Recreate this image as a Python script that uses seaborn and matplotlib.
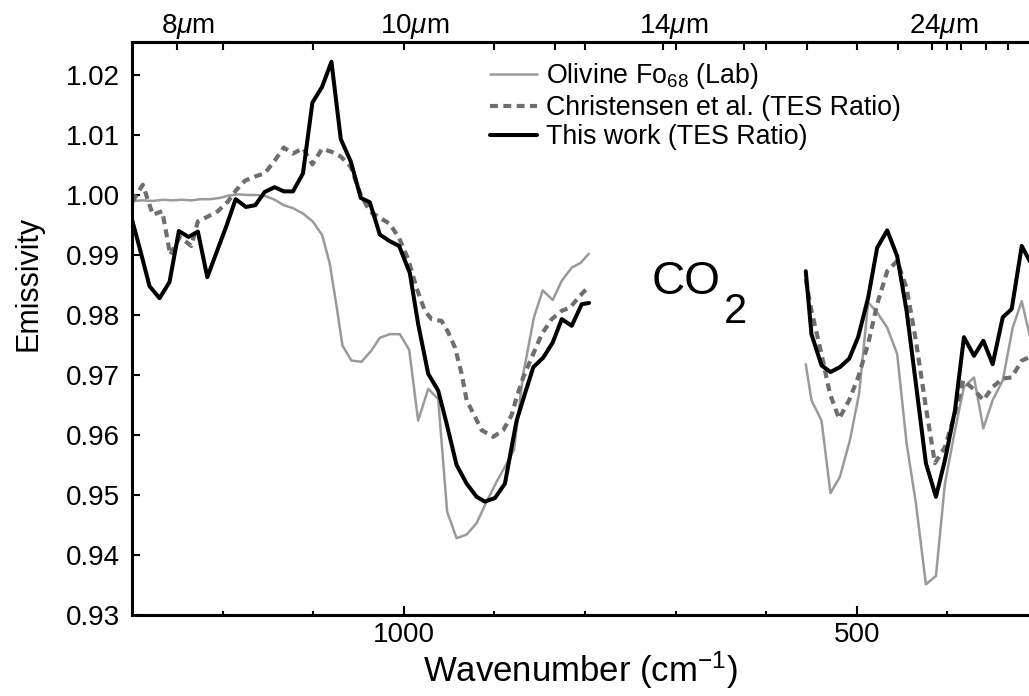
import numpy as np
import pandas as pd
import seaborn as sns
import matplotlib.pyplot as plt
import matplotlib.transforms as mtransforms
from matplotlib.lines import Line2D
from matplotlib.ticker import FixedLocator, FixedFormatter, MultipleLocator

# ---------------------------------------------------------------------------
# Spectra (wavenumber in cm^-1, emissivity). Each series is split in two
# pieces around the 15 um CO2 band, where no surface data are shown.
# ---------------------------------------------------------------------------
lab_wn_hi = [1299.5, 1288.1, 1277.4, 1266.0, 1255.3, 1245.3, 1234.3, 1224.3, 1213.3,
             1203.3, 1193.4, 1182.9, 1172.4, 1162.4, 1152.5, 1142.5, 1132.6, 1122.3,
             1111.3, 1100.6, 1090.1, 1081.8, 1074.6, 1067.7, 1057.8, 1046.7, 1035.7,
             1026.5, 1015.5, 1004.4, 994.1, 984.2, 973.1, 962.1, 952.2, 941.8, 930.7,
             919.7, 908.6, 897.6, 888.4, 878.4, 868.2, 856.4, 846.7, 835.7, 825.7,
             814.7, 804.7, 795.9]
lab_eps_hi = [0.9990, 0.9991, 0.9990, 0.9992, 0.9991, 0.9992, 0.9991, 0.9993, 0.9993,
              0.9995, 0.9999, 1.0001, 1.0000, 1.0000, 0.9998, 0.9992, 0.9983, 0.9978,
              0.9969, 0.9956, 0.9933, 0.9886, 0.9818, 0.9749, 0.9724, 0.9722, 0.9741,
              0.9762, 0.9768, 0.9768, 0.9742, 0.9624, 0.9677, 0.9660, 0.9472, 0.9428,
              0.9434, 0.9453, 0.9489, 0.9522, 0.9547, 0.9575, 0.9702, 0.9796, 0.9841,
              0.9825, 0.9857, 0.9879, 0.9887, 0.9902]
lab_wn_lo = [556.4, 550.1, 539.0, 529.1, 518.8, 507.7, 497.5, 487.5, 477.6, 466.5,
             455.5, 445.1, 434.8, 423.8, 412.7, 402.8, 391.7, 381.8, 370.7, 360.4,
             350.1, 339.0, 328.0, 318.0, 307.5]
lab_eps_lo = [0.9718, 0.9658, 0.9624, 0.9503, 0.9530, 0.9591, 0.9669, 0.9821, 0.9804,
              0.9779, 0.9735, 0.9586, 0.9486, 0.9351, 0.9365, 0.9519, 0.9608, 0.9680,
              0.9696, 0.9611, 0.9658, 0.9691, 0.9779, 0.9823, 0.9755]

chr_wn_hi = [1299.5, 1288.1, 1277.0, 1266.6, 1257.8, 1247.2, 1234.6, 1227.3, 1216.3,
             1205.2, 1194.2, 1185.1, 1175.2, 1163.9, 1153.6, 1142.6, 1132.6, 1122.3,
             1111.3, 1100.9, 1090.3, 1079.9, 1069.6, 1058.6, 1047.5, 1037.6, 1026.5,
             1015.5, 1005.2, 995.2, 986.0, 976.8, 969.4, 958.3, 951.0, 943.6, 936.2,
             930.7, 923.4, 914.1, 901.3, 890.3, 881.0, 875.5, 868.2, 858.9, 847.8,
             836.8, 825.7, 816.6, 807.4, 795.6]
chr_eps_hi = [0.9989, 1.0017, 0.9967, 0.9973, 0.9900, 0.9930, 0.9915, 0.9956, 0.9964,
              0.9973, 0.9989, 1.0008, 1.0024, 1.0031, 1.0036, 1.0057, 1.0079, 1.0069,
              1.0078, 1.0051, 1.0077, 1.0072, 1.0064, 1.0047, 1.0000, 0.9973, 0.9962,
              0.9952, 0.9928, 0.9893, 0.9845, 0.9807, 0.9793, 0.9790, 0.9771, 0.9746,
              0.9702, 0.9658, 0.9636, 0.9608, 0.9597, 0.9608, 0.9633, 0.9663, 0.9696,
              0.9729, 0.9768, 0.9793, 0.9807, 0.9812, 0.9829, 0.9848]
chr_wn_lo = [556.4, 550.1, 539.0, 529.8, 519.6, 508.5, 498.6, 487.5, 477.6, 466.5,
             455.5, 445.1, 434.8, 423.8, 413.8, 402.8, 391.7, 382.5, 371.5, 360.4,
             350.1, 339.0, 329.1, 318.0, 307.5]
chr_eps_lo = [0.9860, 0.9807, 0.9735, 0.9669, 0.9627, 0.9658, 0.9696, 0.9752, 0.9818,
              0.9873, 0.9890, 0.9845, 0.9757, 0.9646, 0.9553, 0.9580, 0.9636, 0.9691,
              0.9677, 0.9658, 0.9680, 0.9694, 0.9696, 0.9724, 0.9731]

tw_wn_hi = [1300.0, 1290.6, 1280.7, 1269.6, 1258.6, 1248.3, 1237.6, 1227.3, 1216.9,
            1206.3, 1195.9, 1185.6, 1174.3, 1163.9, 1153.6, 1142.6, 1132.6, 1122.3,
            1111.3, 1100.9, 1090.3, 1079.9, 1069.6, 1058.6, 1047.5, 1037.6, 1026.5,
            1015.5, 1005.2, 993.4, 984.2, 973.1, 962.1, 952.8, 941.8, 930.7, 919.7,
            910.5, 899.4, 888.4, 881.0, 875.5, 866.3, 857.1, 846.1, 835.7, 825.7,
            814.7, 803.6, 795.6]
tw_eps_hi = [0.9959, 0.9906, 0.9848, 0.9828, 0.9855, 0.9940, 0.9930, 0.9939, 0.9863,
             0.9906, 0.9948, 0.9993, 0.9980, 0.9983, 1.0005, 1.0013, 1.0006, 1.0006,
             1.0036, 1.0154, 1.0180, 1.0222, 1.0093, 1.0056, 0.9995, 0.9988, 0.9934,
             0.9923, 0.9915, 0.9870, 0.9785, 0.9702, 0.9674, 0.9619, 0.9550, 0.9519,
             0.9497, 0.9489, 0.9495, 0.9519, 0.9580, 0.9624, 0.9669, 0.9713, 0.9729,
             0.9754, 0.9793, 0.9782, 0.9818, 0.9820]
tw_wn_lo = [556.4, 550.1, 539.0, 529.1, 518.8, 508.5, 498.6, 487.5, 477.6, 466.5,
            455.5, 445.1, 434.8, 423.8, 412.7, 402.8, 391.7, 381.8, 370.7, 360.4,
            350.1, 339.0, 329.1, 318.0, 307.5]
tw_eps_lo = [0.9873, 0.9768, 0.9716, 0.9705, 0.9713, 0.9727, 0.9763, 0.9829, 0.9912,
             0.9941, 0.9898, 0.9807, 0.9685, 0.9553, 0.9497, 0.9558, 0.9641, 0.9763,
             0.9732, 0.9757, 0.9718, 0.9796, 0.9810, 0.9915, 0.9885]

series_names = ["Olivine Fo$_{68}$ (Lab)",
                "Christensen et al. (TES Ratio)",
                "This work (TES Ratio)"]

wavelength_ticks_um = [8, 10, 12, 14, 16, 18, 20, 22, 24, 26, 28, 30]
wavelength_labels_um = [8, 10, 14, 24]
y_ticks = [0.93, 0.94, 0.95, 0.96, 0.97, 0.98, 0.99, 1.00, 1.01, 1.02]


def frame(name, wn_hi, eps_hi, wn_lo, eps_lo):
    return pd.concat([
        pd.DataFrame({"wn": wn_hi, "eps": eps_hi, "segment": "hi"}),
        pd.DataFrame({"wn": wn_lo, "eps": eps_lo, "segment": "lo"}),
    ]).assign(series=name)


df = pd.concat([
    frame(series_names[0], lab_wn_hi, lab_eps_hi, lab_wn_lo, lab_eps_lo),
    frame(series_names[1], chr_wn_hi, chr_eps_hi, chr_wn_lo, chr_eps_lo),
    frame(series_names[2], tw_wn_hi, tw_eps_hi, tw_wn_lo, tw_eps_lo),
], ignore_index=True)

# ---------------------------------------------------------------------------
# Style
# ---------------------------------------------------------------------------
sns.set_theme(style="ticks")
plt.rcParams["font.family"] = ["Liberation Sans", "DejaVu Sans"]
plt.rcParams["mathtext.fontset"] = "custom"
plt.rcParams["mathtext.rm"] = "Liberation Sans"
plt.rcParams["mathtext.it"] = "Liberation Sans:italic"
plt.rcParams["mathtext.bf"] = "Liberation Sans:bold"
for key in ["text.color", "axes.labelcolor", "xtick.color", "ytick.color",
            "axes.edgecolor"]:
    plt.rcParams[key] = "black"

styles = {
    series_names[0]: dict(color="#9a9a9a", linewidth=1.8, linestyle="-"),
    series_names[1]: dict(color="#6e6e6e", linewidth=3.0, linestyle=(0, (1.9, 1.3))),
    series_names[2]: dict(color="black", linewidth=2.9, linestyle="-"),
}

fig = plt.figure(figsize=(10.29, 6.96), dpi=100)
ax = fig.add_axes([0.1283, 0.1164, 0.8717, 0.8233])

for name in series_names:
    sns.lineplot(data=df[df["series"] == name], x="wn", y="eps", units="segment",
                 estimator=None, sort=False, ax=ax, **styles[name])

ax.set_xlim(1300, 310)
ax.set_ylim(0.93, 1.0255)

# bottom axis: wavenumber
ax.xaxis.set_major_locator(FixedLocator([1000, 500]))
ax.xaxis.set_minor_locator(MultipleLocator(100))
ax.xaxis.set_major_formatter(FixedFormatter(["1000", "500"]))
ax.tick_params(axis="x", which="major", direction="in", length=6.5, width=1.5,
               labelsize=20, pad=5, top=False)
ax.tick_params(axis="x", which="minor", direction="in", length=3, width=1.5, top=False)

# left axis: emissivity
ax.set_yticks(y_ticks)
ax.set_yticklabels([f"{v:.2f}" for v in y_ticks])
ax.tick_params(axis="y", direction="in", length=5.5, width=1.5, labelsize=20,
               pad=9, right=False)

for side in ["left", "bottom", "top"]:
    ax.spines[side].set_linewidth(2.2)
ax.spines["right"].set_visible(False)

ax.set_xlabel("Wavenumber (cm$^{-1}$)", fontsize=25, labelpad=1)
ax.set_ylabel("Emissivity", fontsize=22)
ax.yaxis.set_label_coords(-0.099, 0.579)

# top axis: wavelength
ax2 = ax.twiny()
ax2.set_xlim(ax.get_xlim())
wl_pos = [1e4 / w for w in wavelength_ticks_um]
grid_pos = list(range(1200, 300, -100))
top_pos = sorted(set([round(p, 3) for p in wl_pos + grid_pos]), reverse=True)
top_lab = []
for p in top_pos:
    lab = ""
    for w in wavelength_labels_um:
        if abs(p - 1e4 / w) < 0.01:
            lab = f"{w}$\\mu$m"
    top_lab.append(lab)
ax2.xaxis.set_major_locator(FixedLocator(top_pos))
ax2.xaxis.set_major_formatter(FixedFormatter(top_lab))
ax2.tick_params(axis="x", direction="in", length=6, width=1.5, labelsize=20, pad=1)
for side in ["left", "bottom", "right"]:
    ax2.spines[side].set_visible(False)
ax2.spines["top"].set_linewidth(2.2)
shift = mtransforms.ScaledTranslation(0.11, 0, fig.dpi_scale_trans)
for lbl in ax2.get_xticklabels():
    lbl.set_transform(lbl.get_transform() + shift)

# CO2 band annotation
ax.text(726.3, 0.9835, "CO", fontsize=33, ha="left", va="baseline")
ax.text(646.5, 0.97874, "2", fontsize=30, ha="left", va="baseline")

handles = [Line2D([], [], **styles[n]) for n in series_names]
ax.legend(handles, series_names, loc="upper left", bbox_to_anchor=(0.399, 0.966),
          frameon=False, fontsize=19.3, handlelength=1.75, handletextpad=0.35,
          labelspacing=0.13, borderpad=0, borderaxespad=0)

fig.savefig("out.png", dpi=100)
